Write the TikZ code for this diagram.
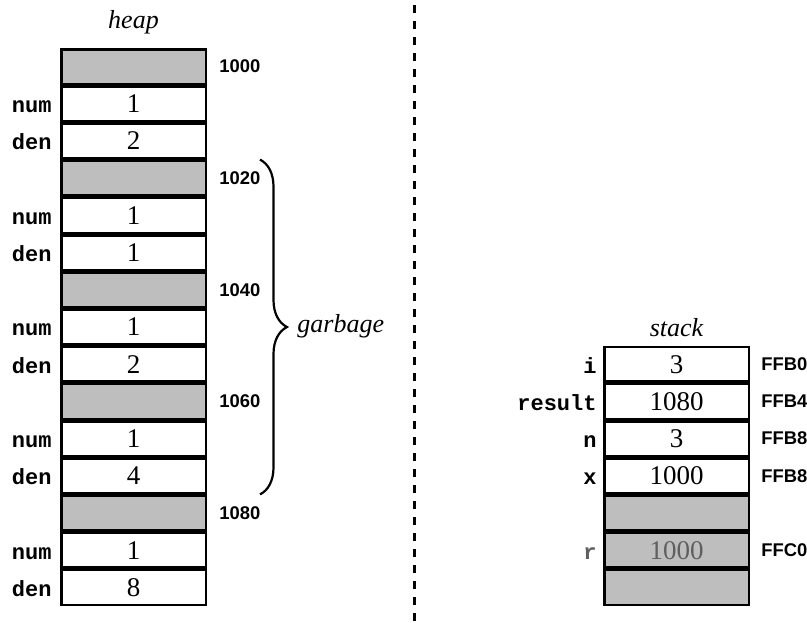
\documentclass[tikz,border=0pt]{standalone}
\usepackage{fontspec}
\setmainfont{Liberation Serif}
\setsansfont{Liberation Sans}
\setmonofont{Liberation Mono}
\usetikzlibrary{decorations.pathreplacing}

\definecolor{cellgray}{RGB}{190,190,190}
\definecolor{oldtext}{RGB}{95,95,95}

\tikzset{
  cell/.style={draw, line width=1.25pt, minimum width=72.25pt, minimum height=17.35pt,
    inner sep=0pt, font=\fontsize{13.5}{15}\selectfont},
  used/.style={cell, fill=cellgray},
  addr/.style={anchor=west, inner sep=0pt, font=\fontsize{9.2}{10}\selectfont\sffamily\bfseries},
  field/.style={anchor=base east, inner sep=0pt, font=\fontsize{11}{12}\selectfont\ttfamily\bfseries},
  title/.style={anchor=base, inner sep=0pt, font=\fontsize{13}{15}\selectfont\itshape},
  divider/.style={line width=1.5pt, dash pattern=on 4pt off 4pt, dash phase=5.5pt},
  curly/.style={line width=1.1pt, decorate, decoration={brace, amplitude=13.5pt}}
}

\begin{document}
\begin{tikzpicture}[x=0.5pt, y=-0.5pt]

\useasboundingbox (0,0) rectangle (807,622);

% heap
\node[title] (heaptitle) at (133.5,28) {heap};
\foreach \blk/\adr/\nv/\dv in {0/1000/1/2, 1/1020/1/1, 2/1040/1/2, 3/1060/1/4, 4/1080/1/8} {
  \node[used] (hg\blk) at (133.5, {48+37.2*(3*\blk+0.5)}) {};
  \node[cell] (hn\blk) at (133.5, {48+37.2*(3*\blk+1.5)}) {\nv};
  \node[cell] (hd\blk) at (133.5, {48+37.2*(3*\blk+2.5)}) {\dv};
  \node[addr] (ha\blk) at ([xshift=6pt]hg\blk.east) {\adr};
  \node[field] (hnl\blk) at ([xshift=-4pt]hn\blk.base west) {num};
  \node[field] (hdl\blk) at ([xshift=-4pt]hd\blk.base west) {den};
}

\draw[curly] ([xshift=26.5pt]hg1.north east) -- ([xshift=26.5pt]hg4.north east);
\node[title, anchor=base west] (garbage) at (297,332) {garbage};

% divider
\coordinate (divtop) at (414,0);
\coordinate (divbot) at (414,622);
\draw[divider] (divtop) -- (divbot);

% stack
\node[title] (stacktitle) at (676.5,336) {stack};
\foreach \row/\val/\adr/\nm in {0/3/FFB0/i, 1/1080/FFB4/result, 2/3/FFB8/n, 3/1000/FFB8/x} {
  \node[cell] (s\row) at (676.5, {345.6+37.2*(\row+0.5)}) {\val};
  \node[field] (sl\row) at ([xshift=-3pt]s\row.base west) {\nm};
  \node[addr] (sa\row) at ([xshift=5.5pt]s\row.east) {\adr};
}
\node[used] (s4) at (676.5, {345.6+37.2*4.5}) {};
\node[used, text=oldtext] (s5) at (676.5, {345.6+37.2*5.5}) {1000};
\node[field, text=oldtext] (sl5) at ([xshift=-3pt]s5.base west) {r};
\node[addr] (sa5) at ([xshift=5.5pt]s5.east) {FFC0};
\node[used] (s6) at (676.5, {345.6+37.2*6.5}) {};

\end{tikzpicture}
\end{document}
